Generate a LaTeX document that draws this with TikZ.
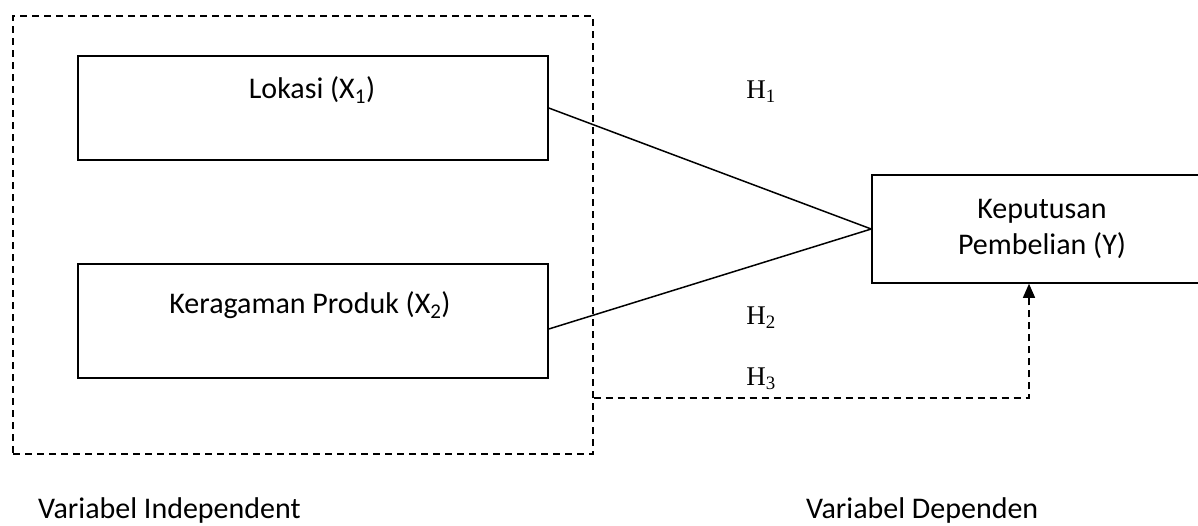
\documentclass[tikz,border=0pt]{standalone}
\usepackage{fontspec}
\setmainfont{Carlito}
\newfontfamily\hfont{Liberation Serif}
\usetikzlibrary{arrows.meta}

\begin{document}
\begin{tikzpicture}[x=1pt, y=-1pt, >={Triangle[length=14pt,width=12pt]},
	font=\fontsize{30}{36}\selectfont,
	varbox/.style={draw, line width=1.5pt, inner sep=0pt},
	dashbox/.style={draw, line width=1.3pt, dash pattern=on 7pt off 5pt},
	txt/.style={inner sep=0pt},
	hyp/.style={inner sep=0pt, font=\hfont\fontsize{27}{30}\selectfont}]
	\useasboundingbox (0, 0) rectangle (1198, 525);

	\node[dashbox, minimum width=580pt, minimum height=438pt] (indep) at (303, 235) {};

	\node[varbox, minimum width=470pt, minimum height=104pt] (lok) at (313, 108) {};
	\node[txt] (loktxt) at (312, 90) {Lokasi (X\textsubscript{1})};

	\node[varbox, minimum width=470pt, minimum height=114pt] (ker) at (313, 321) {};
	\node[txt] (kertxt) at (310, 305) {Keragaman Produk (X\textsubscript{2})};

	\node[varbox, minimum width=340pt, minimum height=108pt, align=center] (kep) at (1042, 229) {Keputusan\\Pembelian (Y)};

	\draw[line width=1.5pt] (lok.east) -- (kep.west);
	\draw[line width=1.5pt] ([yshift=-8pt]ker.east) -- (kep.west);

	\coordinate (h3) at (700, 398);
	\draw[dashbox, ->] (indep.east |- h3) -| ([xshift=-13pt]kep.south);

	\node[hyp] (h1) at (761, 92) {H\textsubscript{1}};
	\node[hyp] (h2) at (761, 318) {H\textsubscript{2}};
	\node[hyp] (h3lbl) at (761, 379) {H\textsubscript{3}};

	\node[txt, anchor=base west] (vi) at (38, 518) {Variabel Independent};
	\node[txt, anchor=base west] (vd) at (806, 518) {Variabel Dependen};
\end{tikzpicture}
\end{document}
